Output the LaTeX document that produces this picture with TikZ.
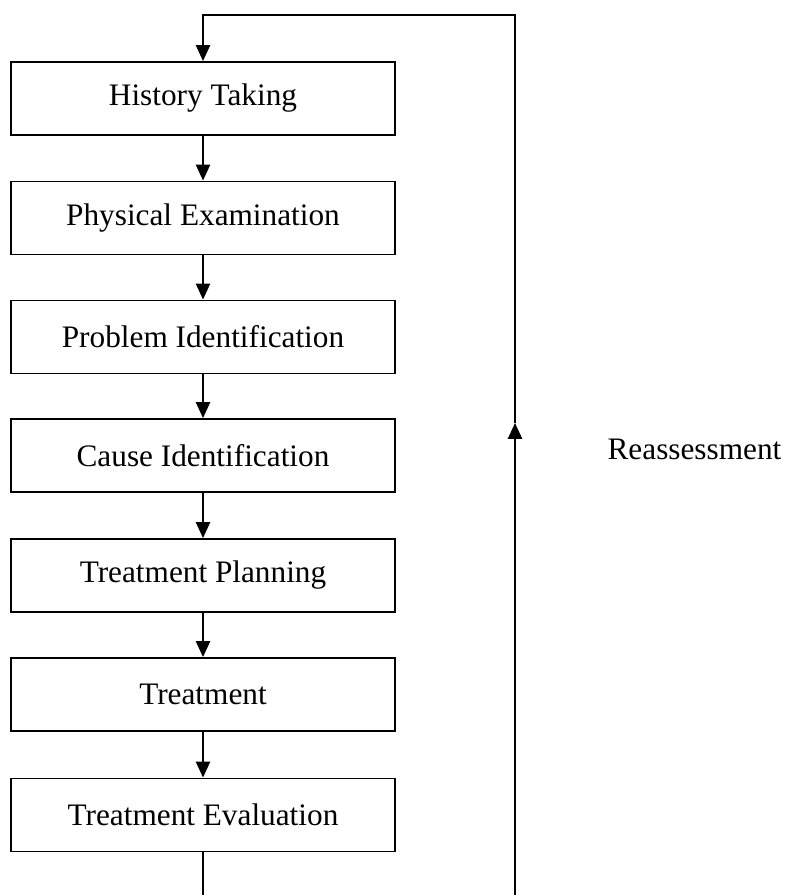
\documentclass[tikz,border=0pt]{standalone}
\usepackage{fontspec}
\setmainfont{Liberation Serif}
\usetikzlibrary{arrows.meta}
\tikzset{
  stage/.style = {rectangle, draw=black, line width=1.1pt,
                  minimum width=7.68cm, minimum height=1.46cm, align=center,
                  font=\fontsize{17.8}{21}\selectfont},
  flow/.style  = {-{Triangle[length=9pt,width=8pt]}, line width=1.1pt},
  link/.style  = {line width=1.1pt},
}
\begin{document}
\begin{tikzpicture}
      \useasboundingbox (0,0) rectangle (15.74,-17.9);

      \node[stage] (history) at (4.06, -1.97)  {History Taking};
      \node[stage] (exam)    at (4.06, -4.36)  {Physical Examination};
      \node[stage] (problem) at (4.06, -6.74)  {Problem Identification};
      \node[stage] (cause)   at (4.06, -9.11)  {Cause Identification};
      \node[stage] (plan)    at (4.06, -11.51) {Treatment Planning};
      \node[stage] (treat)   at (4.06, -13.89) {Treatment};
      \node[stage] (eval)    at (4.06, -16.30) {Treatment Evaluation};

      \node[font=\fontsize{17.8}{21}\selectfont] (reassess) at (13.89, -8.98) {Reassessment};

      \coordinate (evalout) at (4.06, -17.9);
      \coordinate (loopbot) at (10.30, -17.9);
      \coordinate (loopmid) at (10.30, -8.46);
      \coordinate (looptr)  at (10.30, -0.30);
      \coordinate (looptl)  at (4.06, -0.30);

      \draw[flow] (history) -- (exam);
      \draw[flow] (exam)    -- (problem);
      \draw[flow] (problem) -- (cause);
      \draw[flow] (cause)   -- (plan);
      \draw[flow] (plan)    -- (treat);
      \draw[flow] (treat)   -- (eval);

      \draw[link] (eval) -- (evalout);
      \draw[flow] (loopbot) -- (loopmid);
      \draw[flow] (loopmid) -- (looptr) -- (looptl) -- (history);
    \end{tikzpicture}
\end{document}
